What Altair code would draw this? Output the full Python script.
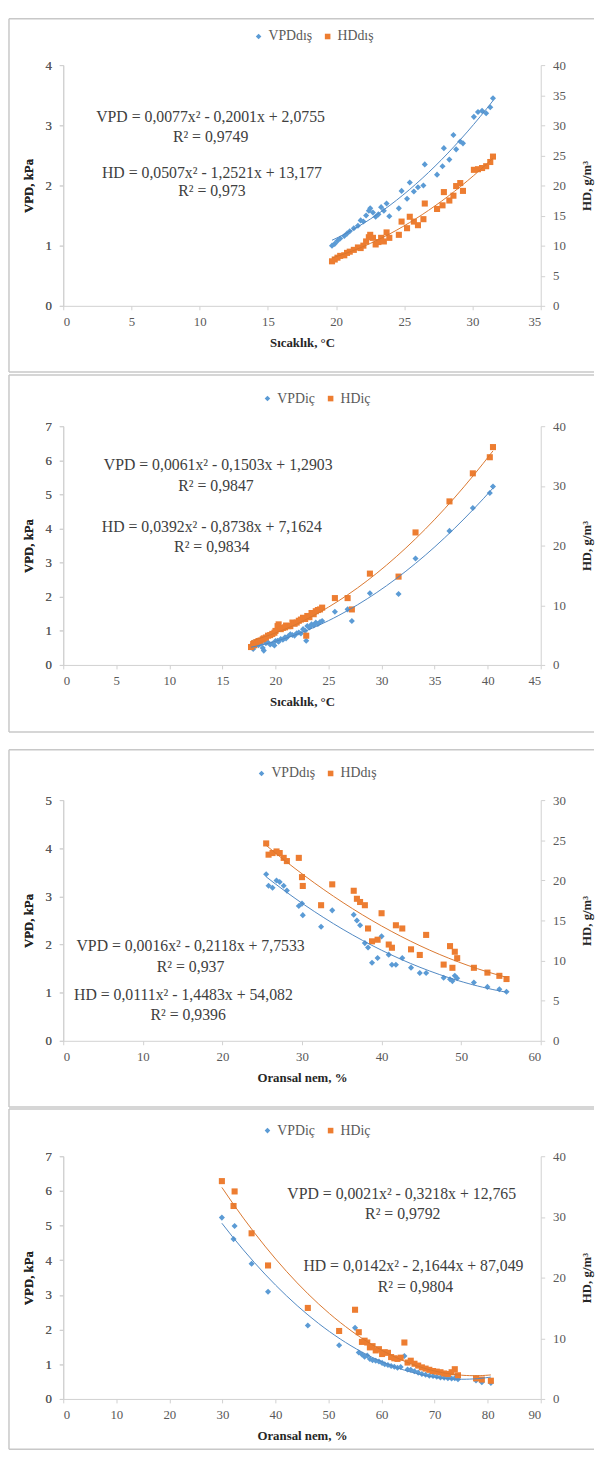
import altair as alt
import pandas as pd

FONT = "Liberation Serif"
BLUE = "#5b9bd5"
ORANGE = "#ed7d31"
BLUE_LINE = "#4f87c2"
ORANGE_LINE = "#d9772f"
FRAME = "#c8c8c8"
W = 484

# ---------------- Panel 1: outside temperature ----------------
p1_x = [19.7, 19.9, 20.1, 20.3, 20.6, 20.8, 21.0, 21.3, 21.6, 21.8, 22.0, 22.2, 22.4, 22.5,
        22.7, 22.9, 23.1, 23.3, 23.5, 23.7, 23.9, 24.6, 24.8, 25.2, 25.4, 25.7, 26.0, 26.4,
        26.5, 27.4, 27.8, 27.9, 28.3, 28.6, 28.8, 29.1, 29.3, 30.1, 30.4, 30.7, 31.0, 31.3, 31.5]
p1_vpd = [1.00, 1.03, 1.08, 1.12, 1.16, 1.20, 1.24, 1.29, 1.33, 1.42, 1.40, 1.50, 1.58, 1.62,
          1.55, 1.48, 1.52, 1.64, 1.58, 1.70, 1.49, 1.62, 1.91, 1.78, 2.05, 1.90, 1.97, 2.00,
          2.35, 2.18, 2.32, 2.62, 2.43, 2.84, 2.60, 2.73, 2.70, 3.14, 3.22, 3.24, 3.20, 3.30, 3.45]
p1_hd = [7.4, 7.7, 8.0, 8.3, 8.4, 8.8, 9.0, 9.3, 9.7, 9.6, 10.0, 10.7, 11.4, 11.8,
         11.3, 10.2, 10.6, 11.3, 10.7, 12.2, 11.3, 11.8, 14.0, 12.9, 14.8, 14.0, 13.4, 14.4,
         17.0, 16.1, 16.7, 18.9, 17.5, 18.3, 19.9, 20.4, 19.1, 22.6, 22.7, 22.9, 23.2, 23.9, 24.8]
p1_names = ["VPDdış", "HDdış"]
p1_eq = ["VPD = 0,0077x² - 0,2001x + 2,0755", "R² = 0,9749",
         "HD = 0,0507x² - 1,2521x + 13,177", "R² = 0,973"]
p1_eq_x = [10.8, 10.8, 10.9, 10.9]
p1_eq_y = [3.13, 2.80, 2.21, 1.90]

# ---------------- Panel 2: inside temperature ----------------
p2_x = [17.7, 17.9, 18.0, 18.2, 18.4, 18.6, 18.8, 18.9, 19.1, 19.3, 19.5, 19.7, 19.9, 20.0,
        20.2, 20.3, 20.5, 20.7, 20.9, 21.0, 21.2, 21.4, 21.6, 21.8, 22.0, 22.2, 22.4, 22.6,
        22.8, 22.9, 23.0, 23.2, 23.4, 23.6, 23.8, 24.0, 24.2, 24.4,
        25.6, 26.8, 27.2, 28.9, 31.6, 33.2, 36.4, 38.6, 40.2, 40.5]
p2_vpd = [0.57, 0.47, 0.55, 0.60, 0.58, 0.62, 0.50, 0.42, 0.64, 0.66, 0.60, 0.62, 0.57, 0.70,
          0.71, 0.68, 0.76, 0.74, 0.81, 0.78, 0.84, 0.90, 0.88, 0.86, 0.93, 0.95, 0.92, 1.05,
          1.00, 0.71, 1.14, 1.10, 1.19, 1.16, 1.24, 1.20, 1.26, 1.29,
          1.56, 1.63, 1.29, 2.10, 2.08, 3.12, 3.93, 4.60, 5.04, 5.23]
p2_hd = [3.0, 3.5, 3.3, 3.8, 4.0, 4.1, 4.3, 4.45, 4.6, 4.9, 5.0, 5.2, 5.4, 5.7,
         6.5, 6.8, 6.0, 6.2, 6.3, 6.6, 6.5, 6.5, 7.1, 6.9, 7.1, 7.4, 7.6, 7.9,
         7.7, 4.9, 8.2, 8.0, 8.7, 8.5, 9.0, 9.2, 9.3, 9.6,
         11.2, 11.2, 9.3, 15.3, 14.8, 22.2, 27.4, 32.1, 34.8, 36.5]
p2_names = ["VPDiç", "HDiç"]
p2_eq = ["VPD = 0,0061x² - 0,1503x + 1,2903", "R² = 0,9847",
         "HD = 0,0392x² - 0,8738x + 7,1624", "R² = 0,9834"]
p2_eq_x = [14.6, 14.4, 14.0, 14.0]
p2_eq_y = [5.87, 5.24, 4.05, 3.47]

# ---------------- Panel 3: outside relative humidity ----------------
p3_x = [25.5, 25.8, 26.3, 26.8, 27.2, 27.7, 28.1, 29.6, 30.0, 30.1, 32.4, 33.8, 36.5, 36.9,
        37.3, 37.9, 38.3, 38.8, 39.5, 40.0, 40.9, 41.3, 41.8, 42.6, 43.7, 44.8, 45.6, 47.8,
        48.6, 48.9, 49.2, 49.5, 51.6, 53.3, 54.8, 55.7]
p3_vpd = [3.46, 3.22, 3.18, 3.33, 3.30, 3.22, 3.12, 2.80, 2.85, 2.61, 2.37, 2.71, 2.62, 2.50,
          2.40, 2.03, 1.94, 1.62, 1.72, 2.17, 1.79, 1.58, 1.58, 1.72, 1.52, 1.41, 1.41, 1.31,
          1.28, 1.24, 1.35, 1.30, 1.21, 1.12, 1.07, 1.02]
p3_hd = [24.6, 23.2, 23.4, 23.6, 23.4, 22.8, 22.4, 22.8, 20.4, 19.3, 16.9, 19.5, 18.7, 17.7,
         17.3, 16.9, 14.0, 12.4, 12.6, 15.9, 12.0, 11.6, 14.4, 14.0, 11.4, 10.7, 13.2, 9.5,
         11.8, 9.1, 11.1, 10.3, 9.1, 8.5, 8.1, 7.7]
p3_names = ["VPDdış", "HDdış"]
p3_eq = ["VPD = 0,0016x² - 0,2118x + 7,7533", "R² = 0,937",
         "HD = 0,0111x² - 1,4483x + 54,082", "R² = 0,9396"]
p3_eq_x = [16.0, 16.0, 15.1, 15.7]
p3_eq_y = [1.97, 1.54, 0.96, 0.53]

# ---------------- Panel 4: inside relative humidity ----------------
p4_x = [29.9, 32.1, 32.3, 35.5, 38.6, 46.1, 52.0, 55.0, 55.7, 56.3, 56.8, 57.3, 57.8, 58.3,
        58.9, 59.5, 60.1, 60.6, 61.2, 61.8, 62.4, 63.0, 63.6, 64.3, 64.9, 65.5, 66.2, 66.9,
        67.6, 68.3, 69.0, 69.7, 70.4, 71.1, 71.8, 72.5, 73.2, 73.8, 74.4, 77.8, 78.9, 80.6]
p4_vpd = [5.23, 4.61, 4.99, 3.90, 3.09, 2.12, 1.55, 2.05, 1.34, 1.28, 1.22, 1.25, 1.15, 1.12,
          1.10, 1.08, 1.04, 1.00, 0.98, 0.95, 0.93, 0.90, 0.92, 1.24, 0.85, 0.84, 0.80, 0.76,
          0.72, 0.70, 0.67, 0.66, 0.64, 0.62, 0.61, 0.60, 0.59, 0.60, 0.57, 0.53, 0.48, 0.46]
p4_hd = [35.9, 31.8, 34.2, 27.3, 22.0, 15.0, 11.2, 14.7, 11.0, 9.4, 9.6, 9.3, 8.5, 8.7,
         8.0, 8.2, 7.4, 7.7, 7.6, 6.9, 6.7, 6.6, 6.8, 9.3, 6.0, 6.3, 5.8, 5.5,
         5.2, 5.0, 4.8, 4.6, 4.5, 4.4, 4.2, 4.1, 4.4, 4.9, 3.9, 3.4, 3.2, 3.0]
p4_names = ["VPDiç", "HDiç"]
p4_eq = ["VPD = 0,0021x² - 0,3218x + 12,765", "R² = 0,9792",
         "HD = 0,0142x² - 2,1644x + 87,049", "R² = 0,9804"]
p4_eq_x = [63.8, 64.0, 66.0, 66.4]
p4_eq_y = [5.92, 5.32, 3.84, 3.24]


def panel(x, vpd, hd, names, xmax, xstep, vmax, hmax, hstep, xtitle,
          eq, eqx, eqy, H, e, lx, ly, ftop, fbot):
    dv = pd.DataFrame({"x": x, "vpd": vpd, "series": names[0]})
    dh = pd.DataFrame({"x": x, "hd": hd, "series": names[1]})
    de = pd.DataFrame({"x": eqx, "vpd": eqy, "label": eq})
    one = pd.DataFrame({"k": [0]})

    X = alt.X("x:Q", scale=alt.Scale(domain=[0, xmax], nice=False, zero=True),
              axis=alt.Axis(title=xtitle, values=list(range(0, xmax + 1, xstep)),
                            labelPadding=6, titlePadding=8))
    leg = alt.Legend(orient="none", legendX=lx, legendY=ly, direction="horizontal",
                     title=None, labelFont=FONT, labelFontSize=14, labelColor="#595959",
                     symbolSize=32, columnPadding=8, labelOffset=3, padding=0)
    color = alt.Color("series:N", scale=alt.Scale(domain=names, range=[BLUE, ORANGE]), legend=leg)
    shape = alt.Shape("series:N", scale=alt.Scale(domain=names, range=["diamond", "square"]), legend=leg)

    YV = alt.Y("vpd:Q", scale=alt.Scale(domain=[0, vmax], nice=False, zero=True, range=[H, e]),
               axis=alt.Axis(title="VPD, kPa", orient="left", values=list(range(0, vmax + 1)),
                             labelPadding=8, titlePadding=10))
    YH = alt.Y("hd:Q", scale=alt.Scale(domain=[0, hmax], nice=False, zero=True, range=[H, e]),
               axis=alt.Axis(title="HD, g/m³", orient="right", values=list(range(0, hmax + 1, hstep)),
                             labelPadding=8, titlePadding=15, titleAngle=270,
                             titleBaseline="top"))

    fr_top = alt.Chart(one).mark_rule(color=FRAME, strokeWidth=1.5).encode(
        x=alt.value(-55), x2=alt.value(538), y=alt.value(ftop))
    fr_bot = alt.Chart(one).mark_rule(color=FRAME, strokeWidth=1.5).encode(
        x=alt.value(-55), x2=alt.value(538), y=alt.value(fbot))
    fr_left = alt.Chart(one).mark_rule(color=FRAME, strokeWidth=1.5).encode(
        x=alt.value(-55), y=alt.value(ftop), y2=alt.value(fbot))

    pts_v = alt.Chart(dv).mark_point(filled=True, size=38, opacity=1).encode(
        x=X, y=YV, color=color, shape=shape)
    line_v = alt.Chart(dv).transform_regression("x", "vpd", method="poly", order=2).mark_line(
        color=BLUE_LINE, strokeWidth=1).encode(x=X, y=YV)
    txt = alt.Chart(de).mark_text(font=FONT, fontSize=16, color="#404040",
                                  align="center", baseline="middle").encode(
        x=X, y=YV, text="label:N")
    pts_h = alt.Chart(dh).mark_point(filled=True, size=38, opacity=1).encode(
        x=X, y=YH, color=color, shape=shape)
    line_h = alt.Chart(dh).transform_regression("x", "hd", method="poly", order=2).mark_line(
        color=ORANGE_LINE, strokeWidth=1).encode(x=X, y=YH)

    gv = alt.layer(fr_top, fr_bot, fr_left, pts_v, txt)
    gh = alt.layer(pts_h, line_h)
    gl = alt.layer(line_v)
    return alt.layer(gv, gh, gl).resolve_scale(y="independent").properties(width=W, height=H)


p1 = panel(p1_x, p1_vpd, p1_hd, p1_names, 35, 5, 4, 40, 5, "Sıcaklık, °C",
           p1_eq, p1_eq_x, p1_eq_y, 244, 0, 191, -36, -47, 311)
p2 = panel(p2_x, p2_vpd, p2_hd, p2_names, 45, 5, 7, 40, 10, "Sıcaklık, °C",
           p2_eq, p2_eq_x, p2_eq_y, 247, 5, 200, -30, -47, 315)
p3 = panel(p3_x, p3_vpd, p3_hd, p3_names, 60, 10, 5, 30, 5, "Oransal nem, %",
           p3_eq, p3_eq_x, p3_eq_y, 264, 20, 194, -14, -31, 331)
p4 = panel(p4_x, p4_vpd, p4_hd, p4_names, 90, 10, 7, 40, 10, "Oransal nem, %",
           p4_eq, p4_eq_x, p4_eq_y, 246, 0, 200, -33, -48, 297)

chart = alt.vconcat(p1, p2, p3, p4, spacing=117, bounds="flush").resolve_scale(
    x="independent", y="independent", color="independent", shape="independent"
).properties(padding=0, background="white").configure_view(stroke=None).configure_axis(
    labelFont=FONT, labelFontSize=13, labelColor="#595959",
    titleFont=FONT, titleFontSize=13, titleFontWeight="bold", titleColor="#262626",
    domainColor="#d0d0d0", tickColor="#d0d0d0", tickSize=4, grid=False
)

chart.save("out.html", embed_options={"renderer": "svg", "actions": False})
